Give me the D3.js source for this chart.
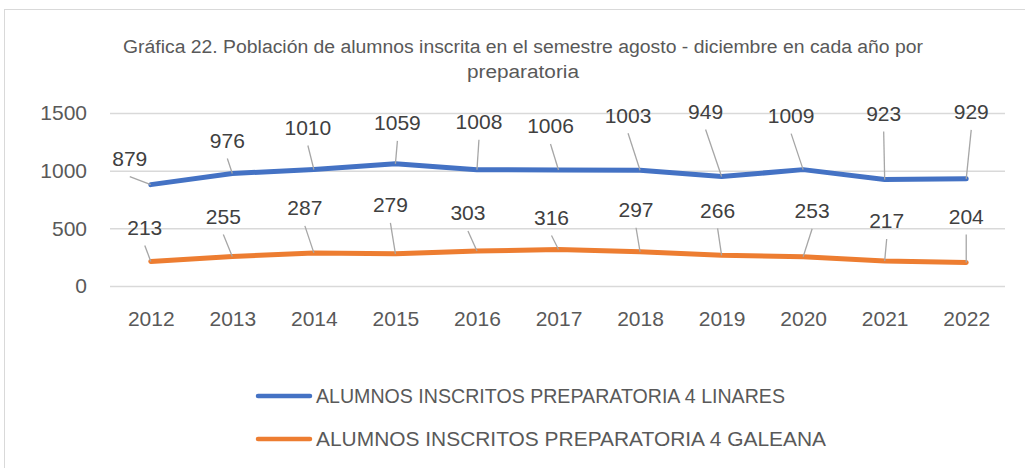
<!DOCTYPE html>
<html lang="es">
<head>
<meta charset="UTF-8">
<title>Gráfica 22</title>
<script src="https://d3js.org/d3.v7.min.js"></script>
<style>
    body { margin: 0; background: #fff; }
    svg { display: block; font-family: "Liberation Sans", Arial, sans-serif; }
</style>
</head>
<body>
<svg id="chart" width="1025" height="468"></svg>
<script>
    const years = ["2012", "2013", "2014", "2015", "2016", "2017", "2018", "2019", "2020", "2021", "2022"];
    const linares = [879, 976, 1010, 1059, 1008, 1006, 1003, 949, 1009, 923, 929];
    const galeana = [213, 255, 287, 279, 303, 316, 297, 266, 253, 217, 204];
    const yTicks = [0, 500, 1000, 1500];
    const seriesNames = ["ALUMNOS INSCRITOS PREPARATORIA 4 LINARES", "ALUMNOS INSCRITOS PREPARATORIA 4 GALEANA"];
    const titleLines = ["Gráfica 22. Población de alumnos inscrita en el semestre agosto - diciembre en cada año por", "preparatoria"];

    // where each data label sits relative to its point (px), like the hand-dragged labels in the original
    const linaresLabelOffsets = [[-21, -26], [-5, -33], [-6, -42], [2, -41], [2, -48], [-8, -44], [-12, -55], [-16, -65], [-12, -54], [-1, -66], [5, -67]];
    const galeanaLabelOffsets = [[-6, -34], [-9, -40], [-9, -45], [-5, -49], [-9, -38], [-7, -32], [-4, -42], [-4, -45], [9, -46], [2, -40], [0, -46]];

    const svg = d3.select("#chart");

    // chart frame
    svg.append("rect")
        .attr("x", 4.5).attr("y", 9.5)
        .attr("width", 1040).attr("height", 480)
        .attr("fill", "#fff")
        .attr("stroke", "#d9d9d9");

    const x = d3.scalePoint().domain(years).range([110, 1007]).padding(0.5);
    const y = d3.scaleLinear().domain([0, 1500]).range([286, 113]);

    // title (the original font is narrow, so squeeze to its width)
    svg.selectAll(".title")
        .data(titleLines)
        .enter().append("text")
        .attr("x", 523)
        .attr("y", (d, i) => 53 + i * 25)
        .attr("text-anchor", "middle")
        .attr("fill", "#595959")
        .attr("font-size", "18px")
        .attr("textLength", (d, i) => i === 0 ? 800 : 112)
        .attr("lengthAdjust", "spacingAndGlyphs")
        .text(d => d);

    // y axis + gridlines
    const yAxis = svg.append("g")
        .attr("transform", "translate(110,0)")
        .call(d3.axisLeft(y).tickValues(yTicks).tickFormat(d3.format("d")).tickSize(-895).tickPadding(23));
    yAxis.select(".domain").remove();
    yAxis.selectAll("line").attr("stroke", "#d9d9d9").attr("stroke-width", 1.5);
    yAxis.selectAll("text").attr("fill", "#595959").attr("font-size", "21px").attr("font-family", "Liberation Sans, Arial, sans-serif");

    // x axis
    const xAxis = svg.append("g")
        .attr("transform", "translate(0,286)")
        .call(d3.axisBottom(x).tickSize(0).tickPadding(25));
    xAxis.select(".domain").remove();
    xAxis.selectAll("text").attr("fill", "#595959").attr("font-size", "21px").attr("font-family", "Liberation Sans, Arial, sans-serif");

    const series = [
        { name: seriesNames[0], values: linares, offsets: linaresLabelOffsets, color: "#4472c4" },
        { name: seriesNames[1], values: galeana, offsets: galeanaLabelOffsets, color: "#ed7d31" }
    ];

    const line = d3.line()
        .x((d, i) => x(years[i]))
        .y(d => y(d));

    series.forEach(s => {
        svg.append("path")
            .datum(s.values)
            .attr("fill", "none")
            .attr("stroke", s.color)
            .attr("stroke-width", 5)
            .attr("stroke-linecap", "round")
            .attr("stroke-linejoin", "round")
            .attr("d", line);

        const labels = svg.append("g");
        s.values.forEach((v, i) => {
            const px = x(years[i]), py = y(v);
            const lx = px + s.offsets[i][0], ly = py + s.offsets[i][1];
            if (ly + 18 < py - 2) {
                labels.append("line")
                    .attr("x1", lx).attr("y1", ly + 18)
                    .attr("x2", px).attr("y2", py)
                    .attr("stroke", "#a6a6a6")
                    .attr("stroke-width", 1.3);
            }
            labels.append("text")
                .attr("x", lx).attr("y", ly)
                .attr("dy", "0.35em")
                .attr("text-anchor", "middle")
                .attr("fill", "#404040")
                .attr("font-size", "21px")
                .text(v);
        });
    });

    // legend
    const legend = svg.append("g");
    series.forEach((s, i) => {
        const ly = 396 + i * 43;
        legend.append("line")
            .attr("x1", 258).attr("x2", 310)
            .attr("y1", ly).attr("y2", ly)
            .attr("stroke", s.color)
            .attr("stroke-width", 4.5)
            .attr("stroke-linecap", "round");
        legend.append("text")
            .attr("x", 316).attr("y", ly)
            .attr("dy", "0.35em")
            .attr("fill", "#595959")
            .attr("font-size", "20px")
            .attr("textLength", i === 0 ? 469 : 510)
            .attr("lengthAdjust", "spacingAndGlyphs")
            .text(s.name);
    });
</script>
</body>
</html>
